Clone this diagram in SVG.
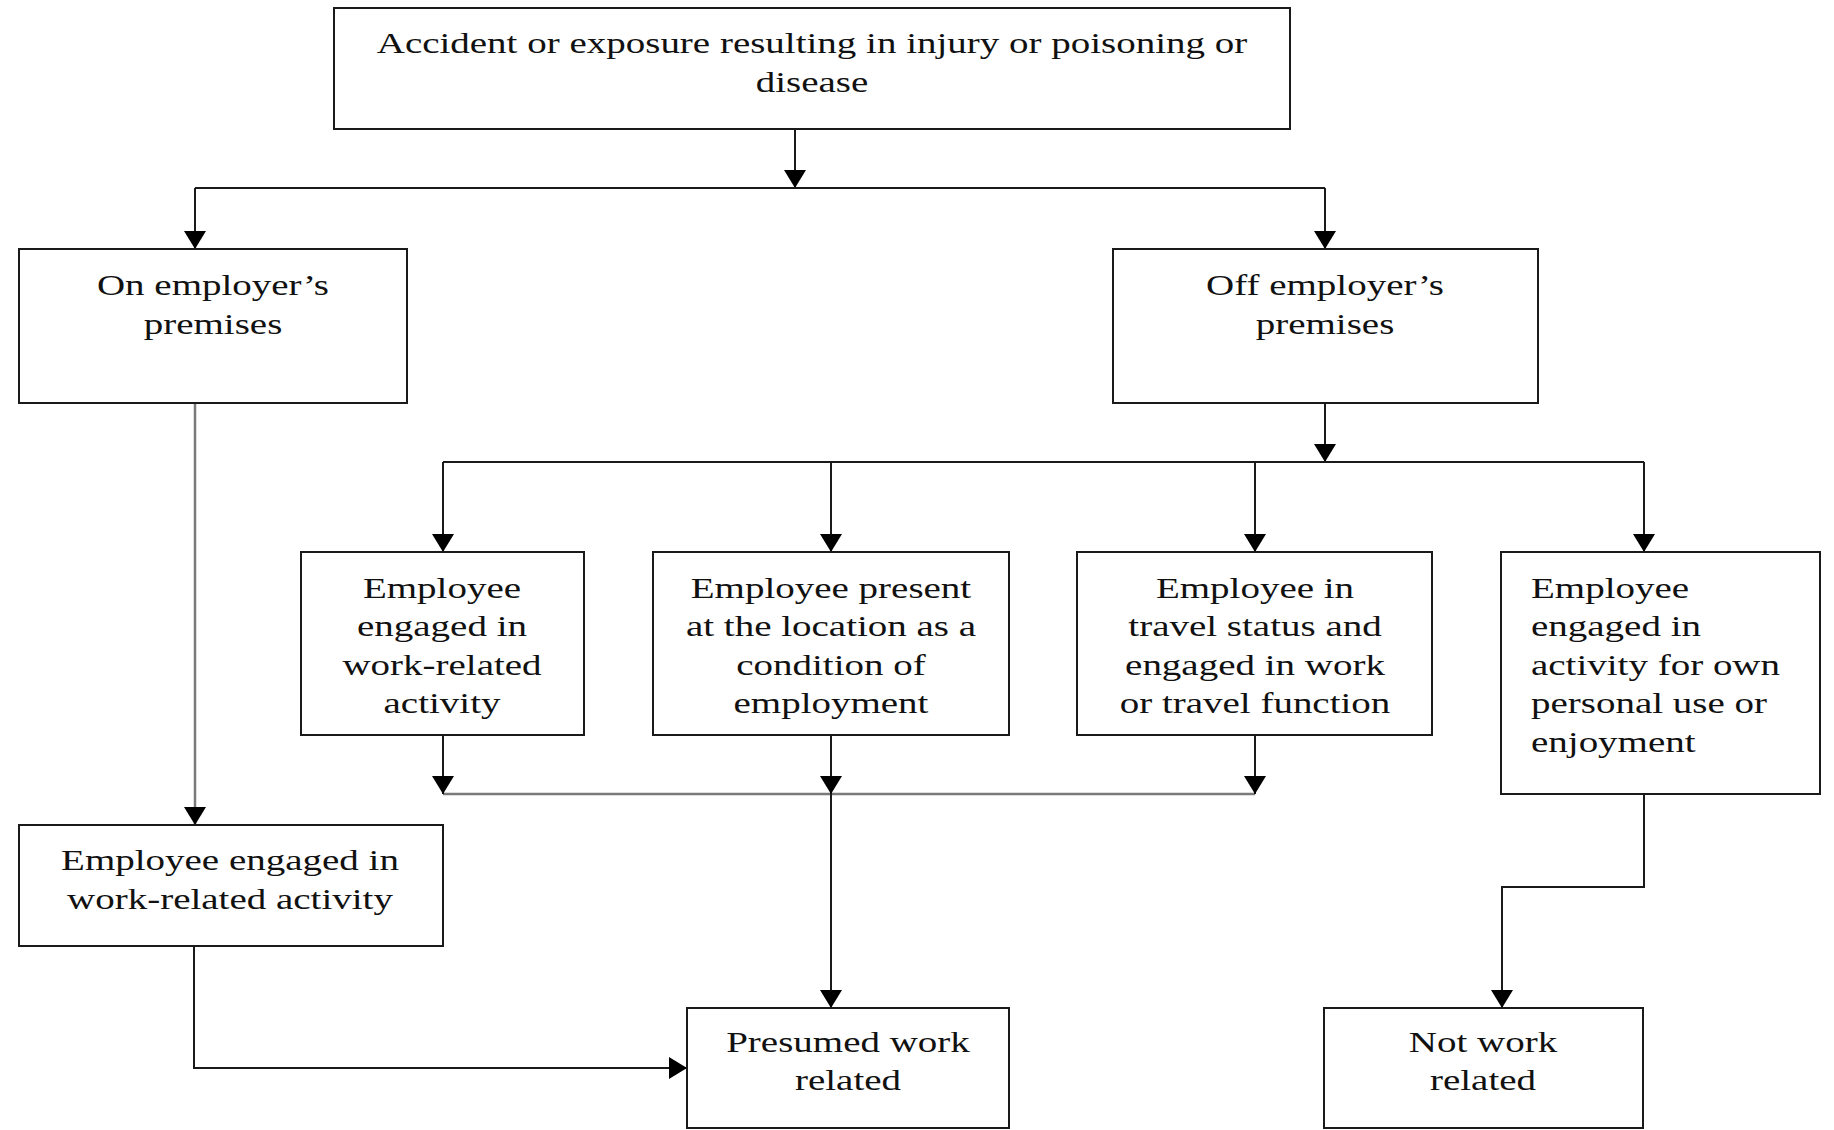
<svg xmlns="http://www.w3.org/2000/svg" width="1834" height="1130" viewBox="0 0 1834 1130">
<style>
.box{fill:#fff;stroke:#1a1a1a;stroke-width:2}
.t{font-family:"Liberation Serif","Times New Roman",serif;font-size:30px;fill:#111}
.c{text-anchor:middle}
.s{text-anchor:start}
.ln{fill:none;stroke:#1a1a1a;stroke-width:2}
.gr{fill:none;stroke:#7a7a7a;stroke-width:2.5}
</style>
<defs>
<marker id="ah" markerUnits="userSpaceOnUse" markerWidth="20" markerHeight="22" refX="18" refY="11" orient="auto">
<path d="M0,0 L18,11 L0,22 z" fill="#000"/>
</marker>
</defs>
<rect width="1834" height="1130" fill="#fff"/>
<g id="connectors">
<path class="ln" d="M795,129 V188" marker-end="url(#ah)"/>
<path class="ln" d="M195,188 H1325"/>
<path class="ln" d="M195,188 V249" marker-end="url(#ah)"/>
<path class="ln" d="M1325,188 V249" marker-end="url(#ah)"/>
<path class="gr" d="M195,403 V825" marker-end="url(#ah)"/>
<path class="ln" d="M1325,403 V462" marker-end="url(#ah)"/>
<path class="ln" d="M443,462 H1644"/>
<path class="ln" d="M443,462 V552" marker-end="url(#ah)"/>
<path class="ln" d="M831,462 V552" marker-end="url(#ah)"/>
<path class="ln" d="M1255,462 V552" marker-end="url(#ah)"/>
<path class="ln" d="M1644,462 V552" marker-end="url(#ah)"/>
<path class="gr" d="M443,794 H1255"/>
<path class="ln" d="M443,735 V794" marker-end="url(#ah)"/>
<path class="ln" d="M831,735 V794" marker-end="url(#ah)"/>
<path class="ln" d="M1255,735 V794" marker-end="url(#ah)"/>
<path class="ln" d="M831,794 V1008" marker-end="url(#ah)"/>
<path class="ln" d="M194,946 V1068 H687" marker-end="url(#ah)"/>
<path class="ln" d="M1644,794 V887 H1502 V1008" marker-end="url(#ah)"/>
</g>
<g id="n-top">
<rect class="box" x="334" y="8" width="956" height="121"/>
<text class="t c" transform="translate(812 0) scale(1.3 1)" x="0" y="53">Accident or exposure resulting in injury or poisoning or</text>
<text class="t c" transform="translate(812 0) scale(1.3 1)" x="0" y="92">disease</text>
</g>
<g id="n-on">
<rect class="box" x="19" y="249" width="388" height="154"/>
<text class="t c" transform="translate(213 0) scale(1.3 1)" x="0" y="295">On employer’s</text>
<text class="t c" transform="translate(213 0) scale(1.3 1)" x="0" y="334">premises</text>
</g>
<g id="n-off">
<rect class="box" x="1113" y="249" width="425" height="154"/>
<text class="t c" transform="translate(1325 0) scale(1.3 1)" x="0" y="295">Off employer’s</text>
<text class="t c" transform="translate(1325 0) scale(1.3 1)" x="0" y="334">premises</text>
</g>
<g id="n-a">
<rect class="box" x="301" y="552" width="283" height="183"/>
<text class="t c" transform="translate(442 0) scale(1.3 1)" x="0" y="598">Employee</text>
<text class="t c" transform="translate(442 0) scale(1.3 1)" x="0" y="636">engaged in</text>
<text class="t c" transform="translate(442 0) scale(1.3 1)" x="0" y="675">work-related</text>
<text class="t c" transform="translate(442 0) scale(1.3 1)" x="0" y="713">activity</text>
</g>
<g id="n-b">
<rect class="box" x="653" y="552" width="356" height="183"/>
<text class="t c" transform="translate(831 0) scale(1.3 1)" x="0" y="598">Employee present</text>
<text class="t c" transform="translate(831 0) scale(1.3 1)" x="0" y="636">at the location as a</text>
<text class="t c" transform="translate(831 0) scale(1.3 1)" x="0" y="675">condition of</text>
<text class="t c" transform="translate(831 0) scale(1.3 1)" x="0" y="713">employment</text>
</g>
<g id="n-c">
<rect class="box" x="1077" y="552" width="355" height="183"/>
<text class="t c" transform="translate(1255 0) scale(1.3 1)" x="0" y="598">Employee in</text>
<text class="t c" transform="translate(1255 0) scale(1.3 1)" x="0" y="636">travel status and</text>
<text class="t c" transform="translate(1255 0) scale(1.3 1)" x="0" y="675">engaged in work</text>
<text class="t c" transform="translate(1255 0) scale(1.3 1)" x="0" y="713">or travel function</text>
</g>
<g id="n-d">
<rect class="box" x="1501" y="552" width="319" height="242"/>
<text class="t s" transform="translate(1531 0) scale(1.3 1)" x="0" y="598">Employee</text>
<text class="t s" transform="translate(1531 0) scale(1.3 1)" x="0" y="636">engaged in</text>
<text class="t s" transform="translate(1531 0) scale(1.3 1)" x="0" y="675">activity for own</text>
<text class="t s" transform="translate(1531 0) scale(1.3 1)" x="0" y="713">personal use or</text>
<text class="t s" transform="translate(1531 0) scale(1.3 1)" x="0" y="752">enjoyment</text>
</g>
<g id="n-e">
<rect class="box" x="19" y="825" width="424" height="121"/>
<text class="t c" transform="translate(230 0) scale(1.3 1)" x="0" y="870">Employee engaged in</text>
<text class="t c" transform="translate(230 0) scale(1.3 1)" x="0" y="909">work-related activity</text>
</g>
<g id="n-f">
<rect class="box" x="687" y="1008" width="322" height="120"/>
<text class="t c" transform="translate(848 0) scale(1.3 1)" x="0" y="1052">Presumed work</text>
<text class="t c" transform="translate(848 0) scale(1.3 1)" x="0" y="1090">related</text>
</g>
<g id="n-g">
<rect class="box" x="1324" y="1008" width="319" height="120"/>
<text class="t c" transform="translate(1483 0) scale(1.3 1)" x="0" y="1052">Not work</text>
<text class="t c" transform="translate(1483 0) scale(1.3 1)" x="0" y="1090">related</text>
</g>
</svg>
